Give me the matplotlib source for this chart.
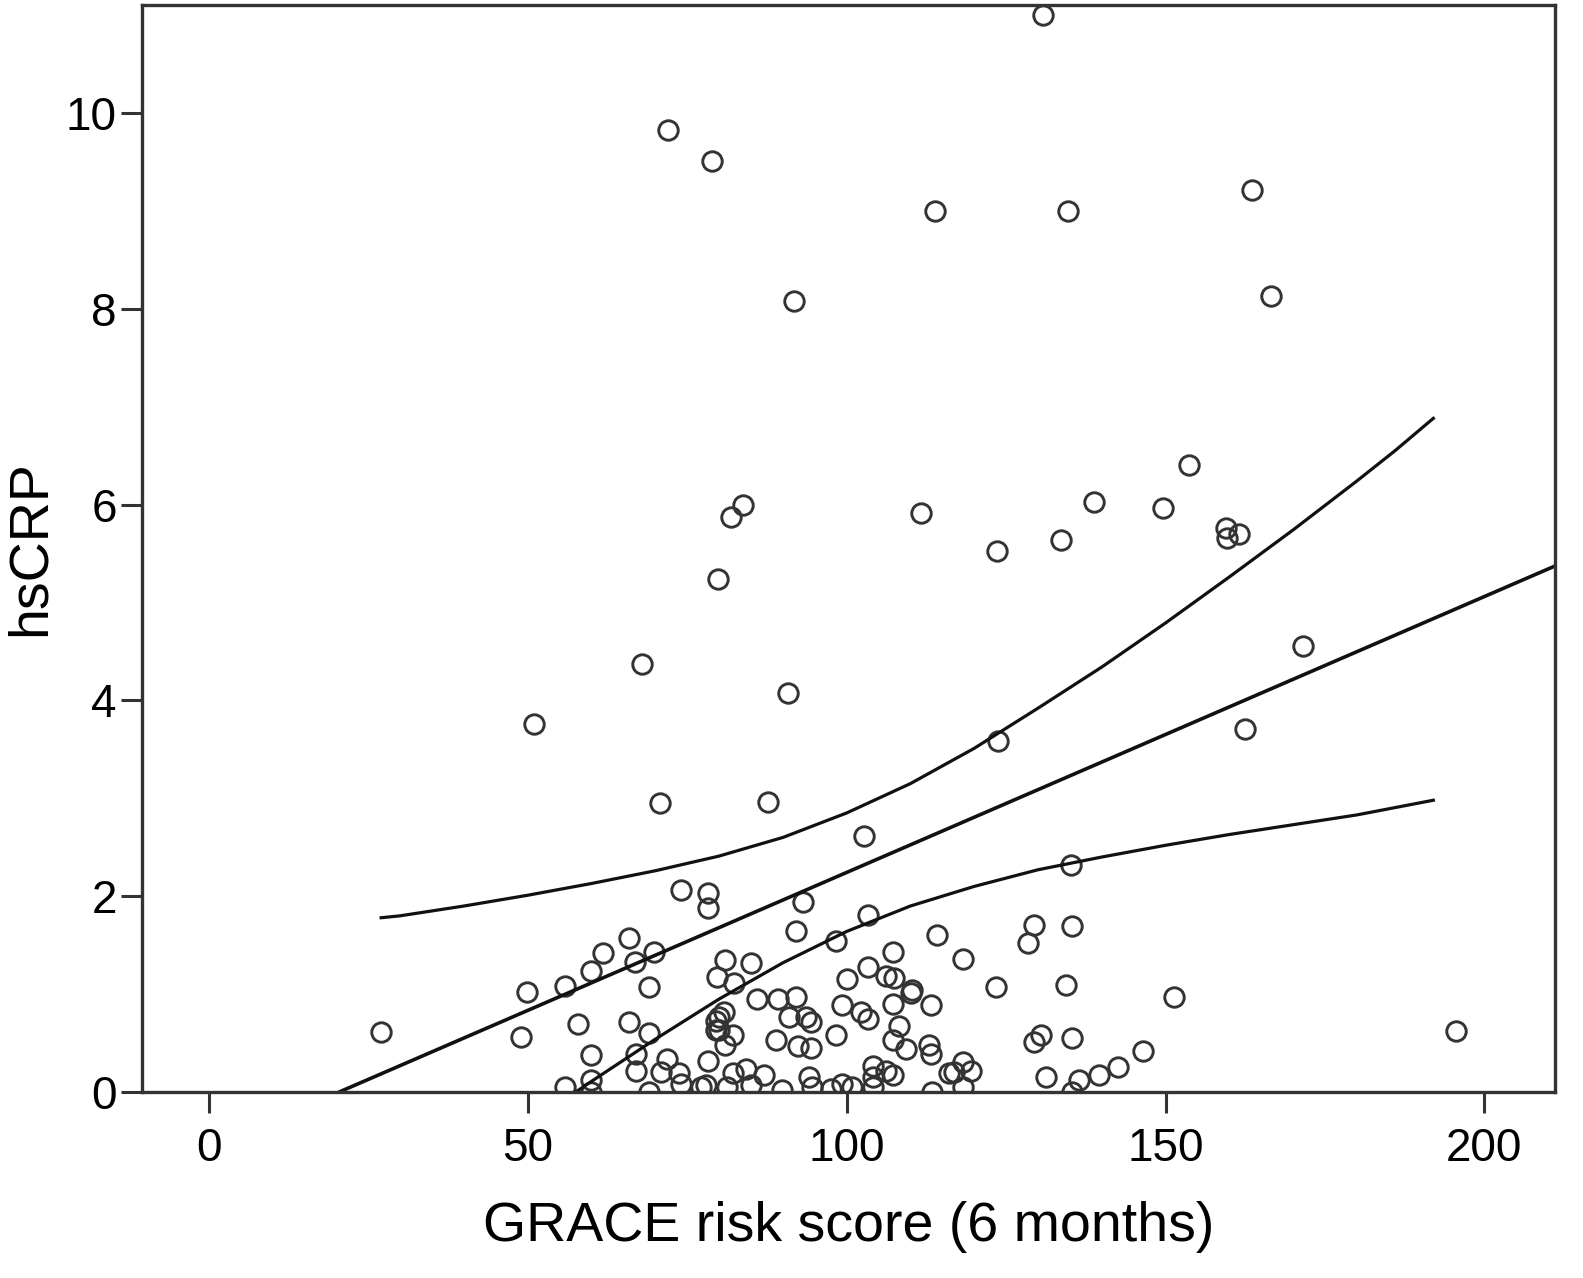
import matplotlib
matplotlib.use("Agg")
import matplotlib.pyplot as plt

plt.rcParams["font.family"] = ["Liberation Sans", "DejaVu Sans"]

# scatter values
grace = [
    130.8, 72.0, 78.9, 113.9, 134.7, 163.6, 91.8, 166.6, 153.7, 138.8,
    149.6, 159.5, 159.7, 161.5, 83.8, 81.9, 111.7, 123.6, 133.6, 79.8,
    67.9, 51.0, 90.8, 171.5, 162.5, 123.7, 70.7, 87.7, 102.7, 135.2,
    27.0, 195.6, 151.4,
    74.0, 78.2, 78.2, 65.9, 61.8, 59.9, 69.8, 66.8, 55.8, 49.9,
    69.0, 79.7, 93.1, 92.0, 103.3, 98.3, 114.2, 107.2, 81.0, 85.0,
    82.4, 100.1, 103.3, 106.1, 107.5, 110.3, 129.4, 128.4, 135.4, 118.3,
    123.4, 134.4, 48.9, 57.9, 65.9, 69.0, 59.9, 66.9, 66.9, 70.9,
    71.9, 73.7, 74.0, 77.1, 78.2, 55.8, 59.9, 59.9, 69.0, 79.5,
    79.5, 86.0, 89.2, 92.0, 91.0, 93.6, 94.4, 80.0, 80.8, 80.0,
    82.1, 81.0, 88.9, 92.3, 94.4, 98.3, 99.3, 102.2, 103.3, 107.2,
    110.1, 113.2, 108.2, 107.2, 109.3, 112.9, 113.2, 82.1, 84.2, 87.1,
    81.3, 85.0, 89.9, 94.1, 94.6, 97.5, 99.3, 100.9, 104.1, 104.1,
    104.1, 107.2, 106.1, 77.9, 113.4, 116.1, 129.4, 130.5, 135.4, 118.2,
    116.9, 119.5, 118.2, 131.2, 136.5, 135.4, 139.5, 142.5, 146.4,
]
hscrp = [
    11.0, 9.82, 9.51, 9.0, 9.0, 9.21, 8.08, 8.13, 6.40, 6.03,
    5.96, 5.76, 5.66, 5.70, 5.99, 5.87, 5.91, 5.53, 5.64, 5.24,
    4.37, 3.76, 4.08, 4.56, 3.71, 3.58, 2.95, 2.96, 2.61, 2.32,
    0.61, 0.62, 0.97,
    2.06, 2.03, 1.88, 1.57, 1.42, 1.24, 1.43, 1.33, 1.08, 1.02,
    1.07, 1.18, 1.94, 1.64, 1.81, 1.54, 1.60, 1.43, 1.35, 1.32,
    1.11, 1.15, 1.28, 1.19, 1.16, 1.04, 1.71, 1.52, 1.70, 1.36,
    1.07, 1.09, 0.56, 0.70, 0.72, 0.60, 0.38, 0.39, 0.22, 0.20,
    0.34, 0.19, 0.08, 0.05, 0.32, 0.05, 0.12, 0.0, 0.0, 0.73,
    0.63, 0.95, 0.95, 0.97, 0.77, 0.77, 0.72, 0.77, 0.82, 0.63,
    0.58, 0.48, 0.53, 0.47, 0.45, 0.58, 0.89, 0.82, 0.75, 0.90,
    1.01, 0.89, 0.67, 0.53, 0.44, 0.48, 0.39, 0.19, 0.24, 0.17,
    0.05, 0.07, 0.02, 0.15, 0.05, 0.03, 0.08, 0.05, 0.27, 0.15,
    0.05, 0.17, 0.22, 0.07, 0.0, 0.19, 0.51, 0.58, 0.55, 0.31,
    0.20, 0.22, 0.05, 0.15, 0.12, 0.0, 0.17, 0.26, 0.42,
]

# fitted line and 95% band
fit_x = [20.4, 211.0]
fit_y = [0.0, 5.37]
upper_x = [27, 30, 40, 50, 60, 70, 80, 90, 100, 110, 120, 130, 140, 150, 160, 170, 180, 186, 192]
upper_y = [1.78, 1.80, 1.90, 2.01, 2.13, 2.26, 2.41, 2.60, 2.85, 3.15, 3.51, 3.92, 4.34, 4.79, 5.26, 5.74, 6.24, 6.55, 6.88]
lower_x = [57.5, 60, 70, 80, 90, 100, 110, 120, 130, 140, 150, 160, 170, 180, 192]
lower_y = [0.0, 0.11, 0.54, 0.95, 1.32, 1.64, 1.90, 2.10, 2.27, 2.40, 2.52, 2.63, 2.73, 2.83, 2.98]

xticks = [0, 50, 100, 150, 200]
yticks = [0, 2, 4, 6, 8, 10]

fig = plt.figure(figsize=(15.83, 12.78), dpi=100)
ax = fig.add_axes([0.0897, 0.1455, 0.8923, 0.8505])

ax.plot(grace, hscrp, linestyle="none", marker="o", markersize=14,
        markerfacecolor="none", markeredgecolor="#333333", markeredgewidth=2.1)
ax.plot(fit_x, fit_y, color="#111111", linewidth=2.6)
ax.plot(upper_x, upper_y, color="#111111", linewidth=2.3)
ax.plot(lower_x, lower_y, color="#111111", linewidth=2.3)

ax.set_xlim(-10.5, 211)
ax.set_ylim(0, 11.1)
ax.set_xticks(xticks)
ax.set_yticks(yticks)
ax.tick_params(direction="out", length=15, width=2.2, color="#333333",
               labelsize=33, colors="black")
ax.tick_params(axis="x", pad=10)
ax.tick_params(axis="y", pad=3)
for spine in ax.spines.values():
    spine.set_linewidth(2.4)
    spine.set_color("#333333")

ax.set_xlabel("GRACE risk score (6 months)", fontsize=40, labelpad=22)
ax.set_ylabel("hsCRP", fontsize=40, labelpad=7)

fig.savefig("out.png", dpi=100)
